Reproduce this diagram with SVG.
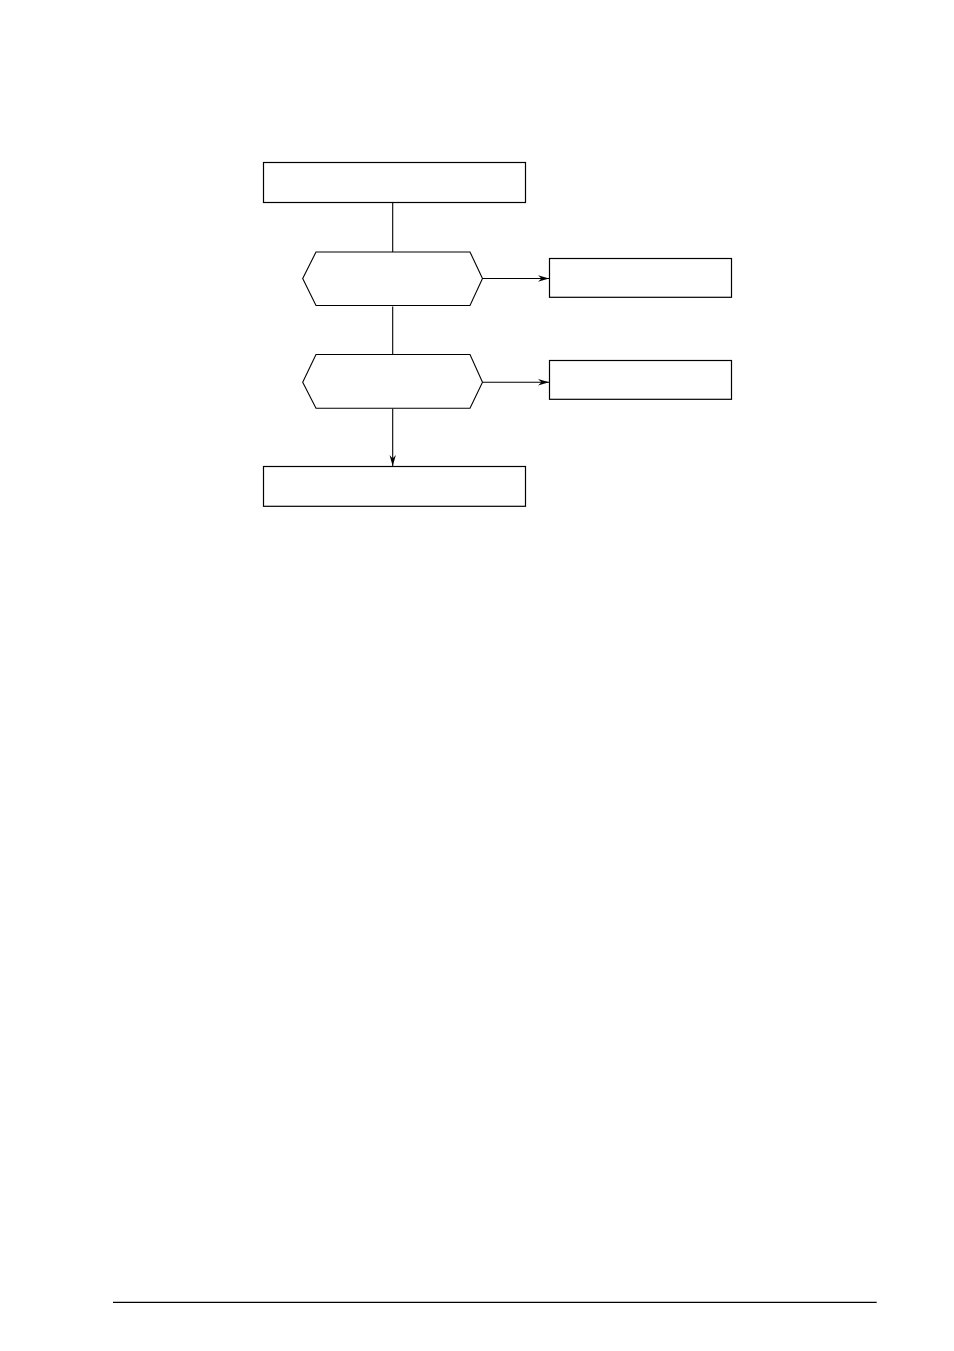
<svg xmlns="http://www.w3.org/2000/svg" width="954" height="1351" viewBox="0 0 954 1351">
<style>
.box{fill:#fff;stroke:#000;stroke-width:1.2}
.hex{fill:#fff;stroke:#000;stroke-width:1.1}
.conn{fill:none;stroke:#000;stroke-width:1.1}
</style>
<defs>
<marker id="arr" viewBox="0 0 11 8" refX="11" refY="4" markerWidth="11" markerHeight="8" markerUnits="userSpaceOnUse" orient="auto">
<path d="M0,0.8 L11,4 L0,7.2 L3.5,4 Z" fill="#000"/>
</marker>
</defs>
<rect width="954" height="1351" fill="#fff"/>
<g id="connectors">
<line class="conn" x1="392.7" y1="202.5" x2="392.7" y2="252"/>
<line class="conn" x1="392.7" y1="306.5" x2="392.7" y2="354.5"/>
<line class="conn" x1="392.7" y1="408.5" x2="392.7" y2="466" marker-end="url(#arr)"/>
<line class="conn" x1="482.5" y1="278.5" x2="549" y2="278.5" marker-end="url(#arr)"/>
<line class="conn" x1="482.5" y1="382.3" x2="549" y2="382.3" marker-end="url(#arr)"/>
</g>
<g id="n1"><rect class="box" x="263.5" y="162.5" width="262" height="40"/></g>
<g id="d1"><polygon class="hex" points="316,252 470,252 482.5,278.5 470,305.5 316,305.5 302.7,278.5"/></g>
<g id="r1"><rect class="box" x="549.5" y="258.5" width="182" height="38.8"/></g>
<g id="d2"><polygon class="hex" points="316,354.5 470,354.5 482.5,382.3 470,408.3 316,408.3 302.7,382.3"/></g>
<g id="r2"><rect class="box" x="549.5" y="360.5" width="182" height="38.8"/></g>
<g id="n2"><rect class="box" x="263.5" y="466.5" width="262" height="39.8"/></g>
<line x1="113" y1="1302.3" x2="876.7" y2="1302.3" stroke="#000" stroke-width="1.2"/>
</svg>
